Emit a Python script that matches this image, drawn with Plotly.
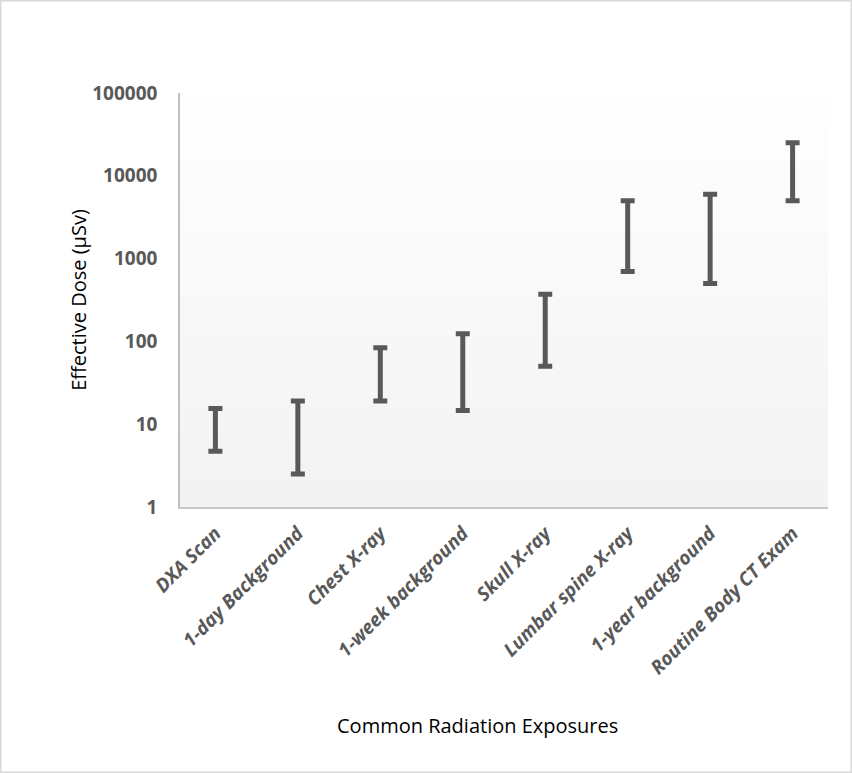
import plotly.graph_objects as go

# Common radiation exposures, effective dose ranges in microsieverts
exposures = ["DXA Scan", "1-day Background", "Chest X-ray", "1-week background",
             "Skull X-ray", "Lumbar spine X-ray", "1-year background", "Routine Body CT Exam"]
dose_low = [4.7, 2.5, 19, 14.6, 50, 700, 500, 5000]
dose_high = [15.5, 19, 84, 124, 370, 5000, 6000, 25000]

y_ticks = [1, 10, 100, 1000, 10000, 100000]

bar_color = "#595959"
gray_text = "#595959"

fig = go.Figure()
fig.add_trace(go.Scatter(
    x=exposures,
    y=dose_low,
    mode="markers",
    marker=dict(size=1, opacity=0),
    error_y=dict(type="data", symmetric=False,
                 array=[h - l for h, l in zip(dose_high, dose_low)],
                 arrayminus=[0] * len(dose_low),
                 color=bar_color, thickness=5, width=7),
    hovertemplate="%{x}<extra></extra>",
    showlegend=False,
))

# plot area: 180..828 px wide, 93..507 px high
pw, ph = 648, 414
shapes = []
# soft vertical gradient behind the plot, white at top to light gray at bottom
steps = 12
for i in range(steps):
    v = 255 - round(13 * (steps - i - 0.5) / steps)
    shapes.append(dict(type="rect", xref="paper", yref="paper",
                       x0=0, x1=1, y0=i / steps, y1=(i + 1) / steps,
                       fillcolor=f"rgb({v},{v},{v})", line=dict(width=0), layer="below"))
# outer chart border
shapes.append(dict(type="rect", xref="paper", yref="paper",
                   x0=(0.75 - 180) / pw, x1=(851.25 - 180) / pw,
                   y0=(507 - 772.25) / ph, y1=(507 - 0.75) / ph,
                   line=dict(color="#d9d9d9", width=1.5), layer="below"))

fig.update_layout(
    width=852, height=773,
    margin=dict(l=180, r=24, t=93, b=266),
    paper_bgcolor="white",
    plot_bgcolor="rgba(0,0,0,0)",
    font=dict(family="Open Sans", color="black"),
    shapes=shapes,
    annotations=[dict(text="Common Radiation Exposures", xref="paper", yref="paper",
                      x=(477 - 180) / pw, y=(507 - 725) / ph,
                      xanchor="center", yanchor="middle", showarrow=False,
                      font=dict(size=20, color="black"))],
    xaxis=dict(
        tickangle=-45,
        tickfont=dict(size=19, color=gray_text, weight="bold", style="italic"),
        showline=True, linecolor="#c8c8c8", linewidth=1.5,
        showgrid=False, ticks="", ticklabelstandoff=6,
    ),
    yaxis=dict(
        title=dict(text="Effective Dose (µSv)", font=dict(size=20, color="black"), standoff=0),
        type="log", range=[0, 5],
        tickvals=y_ticks, ticktext=[str(t) for t in y_ticks],
        tickfont=dict(size=19, color=gray_text, weight="bold"),
        showline=True, linecolor="#bfbfbf", linewidth=1.5,
        showgrid=False, ticks="", zeroline=False, ticklabelstandoff=17,
    ),
)

fig.write_html("out.html", config={"displayModeBar": False},
               post_script="document.body.style.margin='0';")
